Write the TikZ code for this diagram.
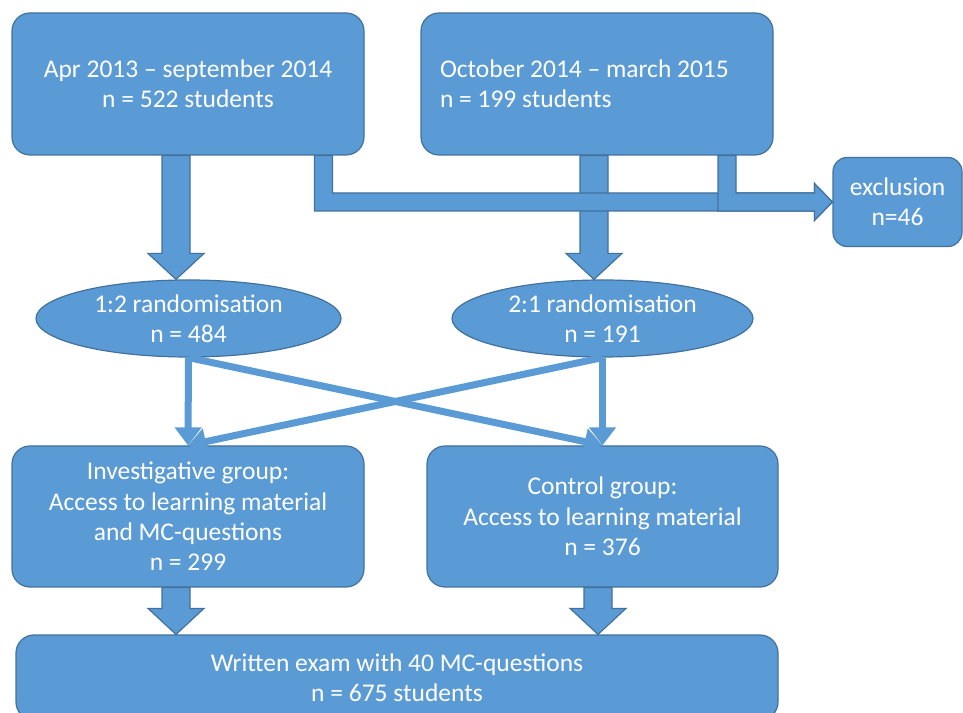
\documentclass[tikz,border=0pt]{standalone}
\usepackage{fontspec}
\setmainfont{Carlito}
\usetikzlibrary{calc,shapes.geometric,arrows.meta}
\tikzstyle{box}=[draw=myedge,fill=myblue,text=white,line width=0.6pt,rounded corners=9pt,minimum width=176pt,minimum height=71pt,inner sep=0pt,align=center,font=\fontsize{12.75pt}{15.2pt}\selectfont]
\tikzstyle{oval}=[box,ellipse,minimum width=152pt,minimum height=38.5pt]
\tikzstyle{link}=[draw=myblue,line width=3.5pt,-{Triangle[width=13pt,length=9pt]}]
\tikzstyle{fat}=[draw=myedge,fill=myblue,line width=0.6pt,to path={let \p1=(\tikztostart), \p2=(\tikztotarget) in
  (\x1-7pt,\y1) -- (\x1-7pt,\y2+13pt) -- (\x1-14pt,\y2+13pt) -- (\x1,\y2) -- (\x1+14pt,\y2+13pt) -- (\x1+7pt,\y2+13pt) -- (\x1+7pt,\y1) -- cycle}]
\tikzstyle{fatbent}=[draw=myedge,fill=myblue,line width=0.6pt,to path={let \p1=(\tikztostart), \p2=(\tikztotarget) in
  (\x1-4.5pt,\y1) -- (\x1-4.5pt,\y2-4.5pt) -- (\x2-9pt,\y2-4.5pt) -- (\x2-9pt,\y2-9.25pt) -- (\x2,\y2) -- (\x2-9pt,\y2+9.25pt) -- (\x2-9pt,\y2+4.5pt) -- (\x1+4.5pt,\y2+4.5pt) -- (\x1+4.5pt,\y1) -- cycle}]
\definecolor{myblue}{RGB}{91,155,213}
\definecolor{myedge}{RGB}{65,113,156}

\begin{document}
\begin{tikzpicture}[x=0.5pt,y=0.5pt]
\useasboundingbox (0,0) rectangle (963,712);
\draw (188, 628) node [box] (src1) {Apr 2013 -- september 2014\\n = 522 students};
\draw (597, 628) node [box,align=justify,text width=157pt,inner xsep=9.5pt] (src2) {\spaceskip=0pt\xspaceskip=0pt October 2014 -- march 2015\\n = 199 students};
\draw (897.5, 510) node [box,rounded corners=7pt,minimum width=64.5pt,minimum height=44.5pt] (excl) {exclusion\\n=46};
\draw (188.5, 393.5) node [oval,minimum width=152.5pt] (rand1) {1:2 randomisation\\n = 484};
\draw (602.5, 393.5) node [oval,minimum width=150.5pt] (rand2) {2:1 randomisation\\n = 191};
\draw (188, 195.5) node [box,minimum height=70.5pt] (inv) {Investigative group:\\Access to learning material\\and MC-questions\\n = 299};
\draw (602.5, 195.5) node [box,minimum width=175.5pt,minimum height=70.5pt] (ctrl) {Control group:\\Access to learning material\\n = 376};
\draw (397, 34.5) node [box,minimum width=381pt,minimum height=42.5pt] (exam) {Written exam with 40 MC-questions\\n = 675 students};
% block arrows
\draw[fat] (176,0 |- src1.south) to (176,0 |- rand1.north);
\draw[fat] (594,0 |- src2.south) to (594,0 |- rand2.north);
\draw[fatbent] (323.5,0 |- src1.south) to (excl.west);
\draw[fatbent] (727,0 |- src2.south) to (excl.west);
\draw[fat] (176,0 |- inv.south) to (176,0 |- exam.north);
\draw[fat] (598,0 |- ctrl.south) to (598,0 |- exam.north);
% randomisation
\draw[link] (rand1.south) -- (inv.north);
\draw[link] (rand1.south) -- (ctrl.north);
\draw[link] (rand2.south) -- (ctrl.north);
\draw[link] (rand2.south) -- (inv.north);
\end{tikzpicture}
\end{document}
